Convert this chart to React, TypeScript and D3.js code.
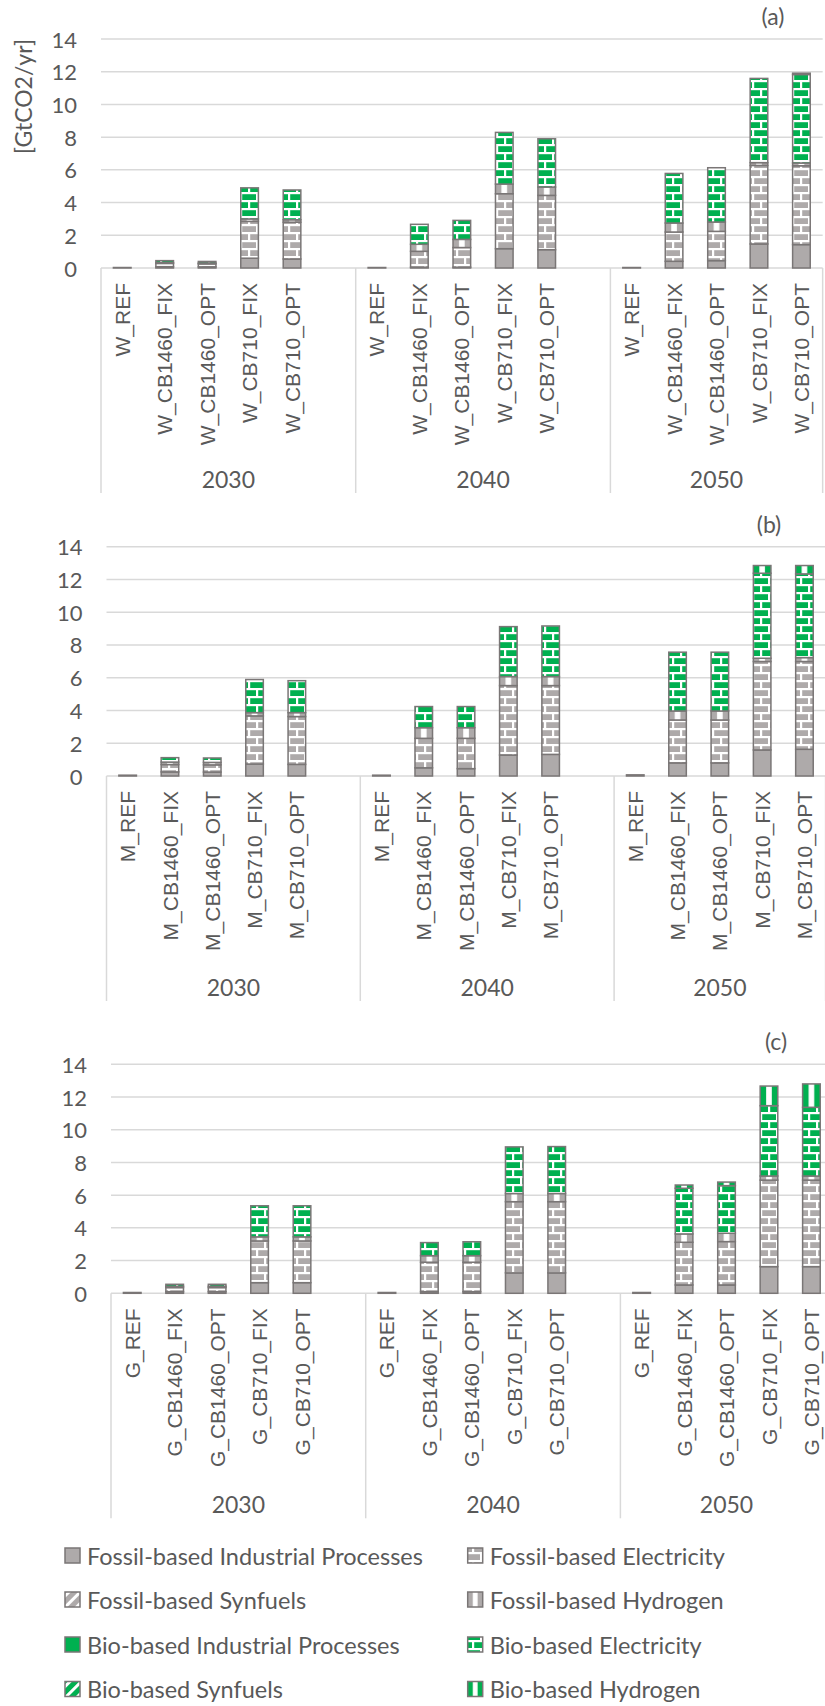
import React from 'react';
import * as d3 from 'd3';

// ---- categories ----
const years = ['2030', '2040', '2050'];
const scenarios = ['REF', 'CB1460_FIX', 'CB1460_OPT', 'CB710_FIX', 'CB710_OPT'];
const yTicks = [0, 2, 4, 6, 8, 10, 12, 14];

const seriesKeys = ['fip', 'fe', 'fs', 'fh', 'bip', 'be', 'bs', 'bh'];
const seriesNames = [
  'Fossil-based Industrial Processes',
  'Fossil-based Electricity',
  'Fossil-based Synfuels',
  'Fossil-based Hydrogen',
  'Bio-based Industrial Processes',
  'Bio-based Electricity',
  'Bio-based Synfuels',
  'Bio-based Hydrogen',
];

// ---- values [GtCO2/yr], order: 2030 x5 scenarios, 2040 x5, 2050 x5 ----
// Panel (a): W_
const W_FIP = [0.03, 0.08, 0.07, 0.6, 0.55, 0.03, 0.05, 0.05, 1.18, 1.12, 0.03, 0.41, 0.45, 1.47, 1.43];
const W_FE = [0, 0.2, 0.18, 2.25, 2.25, 0, 0.97, 1.2, 3.36, 3.32, 0, 1.79, 1.79, 4.8, 4.82];
const W_FS = [0, 0, 0, 0, 0, 0, 0, 0, 0, 0, 0, 0, 0, 0, 0];
const W_FH = [0, 0.05, 0.05, 0.15, 0.15, 0, 0.43, 0.5, 0.59, 0.51, 0, 0.55, 0.57, 0.17, 0.17];
const W_BIP = [0, 0, 0, 0, 0, 0, 0, 0, 0, 0, 0, 0, 0, 0, 0];
const W_BE = [0, 0.12, 0.1, 1.9, 1.82, 0, 1.22, 1.16, 3.16, 2.95, 0, 3.03, 3.32, 5.15, 5.41];
const W_BS = [0, 0, 0, 0, 0, 0, 0, 0, 0, 0, 0, 0, 0, 0, 0];
const W_BH = [0, 0, 0, 0, 0, 0, 0, 0, 0, 0, 0, 0, 0, 0, 0.08];

// Panel (b): M_
const M_FIP = [0.05, 0.25, 0.24, 0.73, 0.71, 0.05, 0.5, 0.45, 1.28, 1.32, 0.07, 0.8, 0.8, 1.59, 1.63];
const M_FE = [0, 0.45, 0.44, 2.94, 2.92, 0, 1.8, 1.85, 4.24, 4.2, 0, 2.62, 2.62, 5.4, 5.36];
const M_FS = [0, 0, 0, 0, 0, 0, 0, 0, 0, 0, 0, 0, 0, 0, 0];
const M_FH = [0, 0.15, 0.15, 0.2, 0.24, 0, 0.65, 0.65, 0.55, 0.55, 0, 0.55, 0.55, 0.2, 0.24];
const M_BIP = [0, 0, 0, 0, 0, 0, 0, 0, 0, 0, 0, 0, 0, 0, 0];
const M_BE = [0, 0.27, 0.27, 2.02, 1.95, 0, 1.29, 1.29, 3.05, 3.09, 0, 3.59, 3.59, 5.19, 5.11];
const M_BS = [0, 0, 0, 0, 0, 0, 0, 0, 0, 0, 0, 0, 0, 0, 0];
const M_BH = [0, 0, 0, 0, 0, 0, 0, 0, 0, 0, 0, 0, 0, 0.47, 0.51];

// Panel (c): G_
const G_FIP = [0.05, 0.1, 0.1, 0.65, 0.65, 0.05, 0.1, 0.1, 1.25, 1.25, 0.05, 0.51, 0.51, 1.63, 1.63];
const G_FE = [0, 0.25, 0.25, 2.55, 2.55, 0, 1.8, 1.8, 4.35, 4.35, 0, 2.61, 2.65, 5.29, 5.29];
const G_FS = [0, 0, 0, 0, 0, 0, 0, 0, 0, 0, 0, 0, 0, 0, 0];
const G_FH = [0, 0.08, 0.08, 0.25, 0.25, 0, 0.4, 0.4, 0.5, 0.5, 0, 0.51, 0.51, 0.25, 0.25];
const G_BIP = [0, 0, 0, 0, 0, 0, 0, 0, 0, 0, 0, 0, 0, 0, 0];
const G_BE = [0, 0.12, 0.12, 1.9, 1.9, 0, 0.8, 0.85, 2.85, 2.87, 0, 2.79, 2.91, 4.3, 4.2];
const G_BS = [0, 0, 0, 0, 0, 0, 0, 0, 0, 0, 0, 0, 0, 0, 0];
const G_BH = [0, 0, 0, 0, 0, 0, 0, 0, 0, 0, 0, 0.2, 0.22, 1.2, 1.43];

// ---- styles ----
const FOSSIL = '#aeaaaa';
const BIO = '#00b050';
const OUTLINE = '#7a7676';
const GRID = '#d9d9d9';
const TEXT = '#595959';
const NUM_FONT = 'Lato, "Open Sans", sans-serif';
const CAT_FONT = '"Liberation Sans", Arial, sans-serif';

const fills: Record<string, string> = {
  fip: FOSSIL,
  fe: 'url(#brick-fossil)',
  fs: 'url(#diag-fossil)',
  fh: 'url(#vert-fossil)',
  bip: BIO,
  be: 'url(#brick-bio)',
  bs: 'url(#diag-bio)',
  bh: 'url(#vert-bio)',
};

const panels = [
  {
    prefix: 'W', tag: '(a)', left: 101, step: 42.45, zeroY: 268, topY: 39, tagX: 773, title: true,
    series: [W_FIP, W_FE, W_FS, W_FH, W_BIP, W_BE, W_BS, W_BH],
  },
  {
    prefix: 'M', tag: '(b)', left: 106.5, step: 42.3, zeroY: 776, topY: 546.7, tagX: 769, title: false,
    series: [M_FIP, M_FE, M_FS, M_FH, M_BIP, M_BE, M_BS, M_BH],
  },
  {
    prefix: 'G', tag: '(c)', left: 111, step: 42.45, zeroY: 1293.3, topY: 1064.3, tagX: 776, title: false,
    series: [G_FIP, G_FE, G_FS, G_FH, G_BIP, G_BE, G_BS, G_BH],
  },
];

function Patterns() {
  const brick = (id: string, color: string) => (
    <pattern id={id} patternUnits="userSpaceOnUse" width={16} height={16}>
      <rect width={16} height={16} fill={color} />
      <rect x={0} y={0} width={16} height={2.2} fill="#fff" />
      <rect x={0} y={8} width={16} height={2.2} fill="#fff" />
      <rect x={0} y={2} width={2.2} height={6} fill="#fff" />
      <rect x={8} y={10} width={2.2} height={6} fill="#fff" />
    </pattern>
  );
  const diag = (id: string, color: string) => (
    <pattern id={id} patternUnits="userSpaceOnUse" width={8} height={8} patternTransform="rotate(45)">
      <rect width={8} height={8} fill="#fff" />
      <rect x={0} y={0} width={5} height={8} fill={color} />
    </pattern>
  );
  const vert = (id: string, color: string) => (
    <pattern id={id} patternUnits="objectBoundingBox" patternContentUnits="objectBoundingBox" width={1} height={1}>
      <rect width={1} height={1} fill={color} />
      <rect x={0.34} y={0} width={0.32} height={1} fill="#fff" />
    </pattern>
  );
  return (
    <defs>
      {brick('brick-fossil', FOSSIL)}
      {brick('brick-bio', BIO)}
      {diag('diag-fossil', FOSSIL)}
      {diag('diag-bio', BIO)}
      {vert('vert-fossil', FOSSIL)}
      {vert('vert-bio', BIO)}
    </defs>
  );
}

function Panel({ cfg }: { cfg: (typeof panels)[number] }) {
  const keys: string[] = [];
  years.forEach((yr, gi) => {
    scenarios.forEach((s) => keys.push(`${yr}|${s}`));
    if (gi < years.length - 1) keys.push(`${yr}|gap`);
  });
  const p = 0.585;
  const x = d3
    .scaleBand<string>()
    .domain(keys)
    .range([cfg.left, cfg.left + cfg.step * keys.length])
    .paddingInner(p)
    .paddingOuter(p / 2);
  const y = d3.scaleLinear().domain([0, 14]).range([cfg.zeroY, cfg.topY]);

  const barKeys = keys.filter((k) => !k.endsWith('|gap'));
  const rows = barKeys.map((k, i) => {
    const r: Record<string, any> = { key: k };
    seriesKeys.forEach((s, si) => (r[s] = cfg.series[si][i]));
    return r;
  });
  const stacked = d3.stack<Record<string, any>>().keys(seriesKeys)(rows);
  const step = x.step();
  const plotRight = cfg.left + step * keys.length;
  const bw = x.bandwidth();

  const groupBounds = years.map((yr, gi) => {
    const start = cfg.left + gi * 6 * step;
    const n = gi < years.length - 1 ? 6 : 5;
    return { yr, start, mid: start + (n * step) / 2, end: start + n * step };
  });

  return (
    <g>
      {/* gridlines */}
      {yTicks.map((t) => (
        <line key={t} x1={cfg.left} x2={plotRight} y1={y(t)} y2={y(t)} stroke={GRID} strokeWidth={1.5} />
      ))}
      {/* category box lines */}
      {[...groupBounds.map((g) => g.start), groupBounds[groupBounds.length - 1].end].map((gx, i) => (
        <line key={i} x1={gx} x2={gx} y1={cfg.zeroY} y2={cfg.zeroY + 225} stroke={GRID} strokeWidth={1.5} />
      ))}
      {/* y tick labels */}
      {yTicks.map((t) => (
        <text
          key={t}
          x={cfg.left - 24}
          y={y(t)}
          textAnchor="end"
          dominantBaseline="central"
          fontFamily={NUM_FONT}
          fontSize={22}
          fill={TEXT}
        >
          {t}
        </text>
      ))}
      {/* stacked bars */}
      {stacked.map((layer) => (
        <g key={layer.key}>
          {layer.map((d, i) => {
            const v = d[1] - d[0];
            if (v <= 0) return null;
            const k = barKeys[i];
            return (
              <rect
                key={k}
                x={x(k)}
                y={y(d[1])}
                width={bw}
                height={Math.max(0.01, y(d[0]) - y(d[1]))}
                fill={fills[layer.key]}
                stroke={OUTLINE}
                strokeWidth={1.5}
              />
            );
          })}
        </g>
      ))}
      {/* category labels */}
      {barKeys.map((k) => {
        const cx = (x(k) as number) + bw / 2;
        const yy = cfg.zeroY + 15;
        const label = `${cfg.prefix}_${k.split('|')[1]}`;
        return (
          <text
            key={k}
            transform={`translate(${cx},${yy}) rotate(-90)`}
            textAnchor="end"
            dy="0.36em"
            fontFamily={CAT_FONT}
            fontSize={21}
            fill={TEXT}
          >
            {label}
          </text>
        );
      })}
      {/* year labels */}
      {groupBounds.map((g) => (
        <text
          key={g.yr}
          x={g.mid}
          y={cfg.zeroY + 220}
          textAnchor="middle"
          fontFamily={NUM_FONT}
          fontSize={23}
          fill={TEXT}
        >
          {g.yr}
        </text>
      ))}
      {/* panel tag */}
      <text x={cfg.tagX} y={cfg.topY - 14} textAnchor="middle" fontFamily={NUM_FONT} fontSize={23} fill={TEXT}>
        {cfg.tag}
      </text>
      {cfg.title && (
        <text
          transform={`translate(23,${(cfg.zeroY + cfg.topY) / 2 - 57}) rotate(-90)`}
          textAnchor="middle"
          dominantBaseline="central"
          fontFamily={NUM_FONT}
          fontSize={23}
          fill={TEXT}
        >
          [GtCO2/yr]
        </text>
      )}
    </g>
  );
}

function Legend() {
  const colX = [65, 467.7];
  const rowY = [1555.5, 1599.5, 1644.5, 1689];
  return (
    <g>
      {seriesKeys.map((s, i) => {
        const col = i % 2;
        const row = Math.floor(i / 2);
        const lx = colX[col];
        const ly = rowY[row];
        return (
          <g key={s}>
            <rect x={lx} y={ly - 7.5} width={15} height={15} fill={fills[s]} stroke={OUTLINE} strokeWidth={1.5} />
            <text
              x={lx + 22}
              y={ly}
              dominantBaseline="central"
              fontFamily={NUM_FONT}
              fontSize={23.5}
              fill={TEXT}
            >
              {seriesNames[i]}
            </text>
          </g>
        );
      })}
    </g>
  );
}

export default function App() {
  return (
    <svg
      width={825}
      height={1706}
      viewBox="0 0 825 1706"
      style={{ position: 'absolute', left: 0, top: 0, background: '#fff' }}
    >
      <Patterns />
      <rect width={825} height={1706} fill="#fff" />
      {panels.map((cfg) => (
        <Panel key={cfg.prefix} cfg={cfg} />
      ))}
      <Legend />
    </svg>
  );
}
